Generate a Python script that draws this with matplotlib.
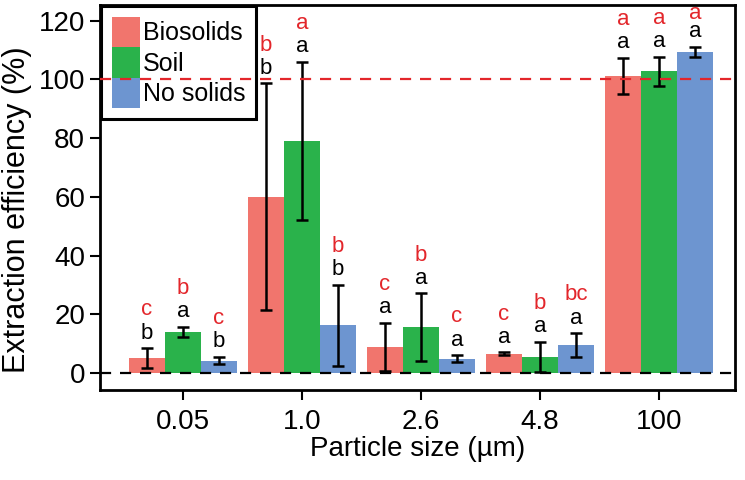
import numpy as np
import matplotlib.pyplot as plt
from matplotlib.patches import Patch

plt.rcParams['font.family'] = ['Liberation Sans', 'DejaVu Sans']

# data
sizes = ["0.05", "1.0", "2.6", "4.8", "100"]
groups = ["Biosolids", "Soil", "No solids"]
biosolids = [5.0, 60.0, 8.8, 6.5, 101.2]
biosolids_err = [3.4, 38.6, 8.2, 0.5, 6.2]
soil = [14.0, 79.0, 15.6, 5.5, 102.7]
soil_err = [1.7, 27.0, 11.5, 5.0, 5.0]
no_solids = [4.2, 16.3, 4.8, 9.5, 109.3]
no_solids_err = [1.3, 13.8, 1.2, 4.0, 1.8]

# significance letters (red row on top, black row below)
red_letters = [["c", "b", "c"], ["b", "a", "b"], ["c", "b", "c"], ["c", "b", "bc"], ["a", "a", "a"]]
black_letters = [["b", "a", "b"], ["b", "a", "b"], ["a", "a", "a"], ["a", "a", "a"], ["a", "a", "a"]]

colors = ["#f1756d", "#2ab24b", "#6d95d0"]
red_txt = "#e3262b"

fig = plt.figure(figsize=(7.45, 4.8), dpi=100)
ax = fig.add_axes([0.134, 0.1875, 0.853, 0.8025])

x = np.arange(len(sizes))
w = 1 / 3.3
series = [(biosolids, biosolids_err), (soil, soil_err), (no_solids, no_solids_err)]

for i, (vals, errs) in enumerate(series):
    pos = x + (i - 1) * w
    ax.bar(pos, vals, width=w, color=colors[i], zorder=2)
    ax.errorbar(pos, vals, yerr=errs, fmt="none", ecolor="black",
                elinewidth=1.8, capsize=4.5, capthick=1.8, zorder=3)
    for j in range(len(sizes)):
        top = vals[j] + errs[j]
        ax.text(pos[j], top + 3.3, black_letters[j][i], ha="center",
                va="baseline", fontsize=16, color="black")
        # keep the top row inside the panel
        ax.text(pos[j], min(top + 11.2, 120.6), red_letters[j][i], ha="center",
                va="baseline", fontsize=16, color=red_txt)

ax.axhline(0, color="black", ls=(0, (5, 4)), lw=1.6, zorder=4)
ax.axhline(100, color=red_txt, ls=(0, (5, 4)), lw=1.6, zorder=6)

ax.set_xlim(-0.697, 4.64)
ax.set_ylim(-5.8, 125.4)
ax.set_xticks(x)
ax.set_xticklabels(sizes)
ax.set_yticks(np.arange(0, 121, 20))
ax.tick_params(axis="both", labelsize=20, width=1.5, length=7.5, pad=3, direction="out")
ax.tick_params(axis="x", pad=6)
for s in ax.spines.values():
    s.set_linewidth(2)

ax.set_xlabel("Particle size (µm)", fontsize=20, labelpad=1)
ax.set_ylabel("Extraction efficiency (%)", fontsize=22)
ax.yaxis.set_label_coords(-0.106, 0.467)

handles = [Patch(facecolor=c) for c in colors]
leg = ax.legend(handles, groups, loc="upper left", bbox_to_anchor=(0, 1),
                borderaxespad=0.05, fontsize=18, handlelength=1.12,
                handleheight=1.5, handletextpad=0.12, labelspacing=0,
                borderpad=0.42, fancybox=False, framealpha=1, edgecolor="black")
leg.get_frame().set_linewidth(2.2)
leg.set_zorder(5)

fig.savefig("out.png", dpi=100)
